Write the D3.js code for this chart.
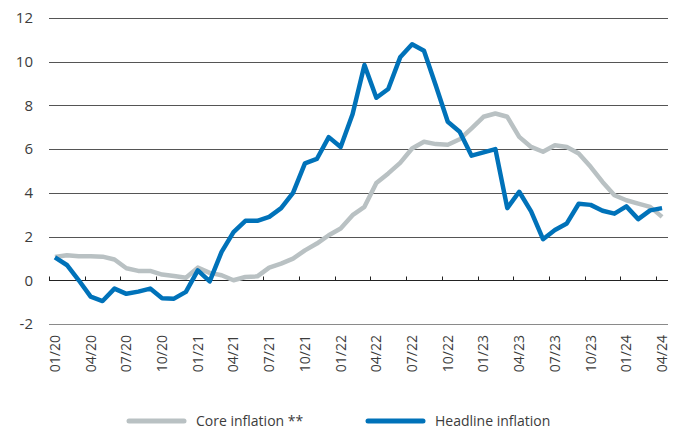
<!DOCTYPE html>
<html>
<head>
<meta charset="utf-8">
<script src="https://cdn.jsdelivr.net/npm/d3@7"></script>
<style>
  body { margin: 0; background: #fff; }
  text { font-family: "Open Sans", "Noto Sans", sans-serif; fill: #3c3c3c; }
</style>
</head>
<body>
<svg id="chart" width="680" height="430"></svg>
<script>

// monthly labels 01/20 .. 04/24
var months = []
for (var yr = 20; yr <= 24; yr++) {
  for (var mo = 1; mo <= 12; mo++) {
    if (yr == 24 && mo > 4) break
    months.push((mo < 10 ? "0" + mo : "" + mo) + "/" + yr)
  }
}

var yTicks = [-2, 0, 2, 4, 6, 8, 10, 12]

var coreInflation = [1.07,1.15,1.1,1.1,1.08,0.95,0.55,0.43,0.43,0.26,0.2,0.12,0.58,0.34,0.23,0.0,
  0.15,0.18,0.58,0.76,0.99,1.37,1.68,2.06,2.37,2.98,3.36,4.45,4.89,5.37,6.03,6.34,6.23,6.2,6.45,6.95,
  7.48,7.63,7.48,6.56,6.1,5.88,6.18,6.1,5.8,5.19,4.5,3.89,3.66,3.51,3.36,2.9]

var headlineInflation = [1.05,0.7,0.0,-0.75,-0.95,-0.38,-0.62,-0.52,-0.38,-0.82,-0.84,-0.53,0.45,-0.05,1.3,2.2,
  2.72,2.72,2.9,3.3,4.0,5.35,5.55,6.55,6.1,7.6,9.85,8.35,8.75,10.2,10.8,10.5,8.9,7.25,6.8,5.7,5.85,6.0,
  3.3,4.05,3.15,1.88,2.3,2.6,3.5,3.45,3.18,3.05,3.38,2.8,3.2,3.3]

var series = [
  {name: "Core inflation **", values: coreInflation, color: "#b9c1c3"},
  {name: "Headline inflation", values: headlineInflation, color: "#0072b9"}
]

var svg = d3.select("#chart")

var x = d3.scaleBand()
  .domain(months)
  .range([49, 668])
  .paddingInner(0)

var y = d3.scaleLinear()
  .domain([-2, 12])
  .range([324, 18])

// gridlines
svg.append("g")
  .selectAll("line")
  .data(yTicks)
  .enter()
  .append("line")
  .attr("x1", 49)
  .attr("x2", 668)
  .attr("y1", function(d){ return Math.round(y(d)) + 0.5 })
  .attr("y2", function(d){ return Math.round(y(d)) + 0.5 })
  .attr("stroke", function(d){
    if (d == 0) return "#222"
    if (d == -2) return "#8a8a8a"
    return "#555"
  })
  .attr("stroke-width", 1)

// y labels
svg.append("g")
  .selectAll("text")
  .data(yTicks)
  .enter()
  .append("text")
  .attr("x", 33)
  .attr("y", function(d){ return y(d) })
  .attr("dy", "0.35em")
  .attr("text-anchor", "end")
  .attr("font-size", 15)
  .text(function(d){ return d })

// ticks on zero line, every third month
var tickMonths = months.filter(function(d, i){ return i % 3 == 0 })
var y0 = Math.round(y(0)) + 0.5

svg.append("g")
  .selectAll("line")
  .data(tickMonths)
  .enter()
  .append("line")
  .attr("x1", function(d){ return Math.round(x(d)) + 0.5 })
  .attr("x2", function(d){ return Math.round(x(d)) + 0.5 })
  .attr("y1", y0)
  .attr("y2", y0 - 4)
  .attr("stroke", "#222")
  .attr("stroke-width", 1)

// rotated month labels
svg.append("g")
  .selectAll("text")
  .data(tickMonths)
  .enter()
  .append("text")
  .attr("transform", function(d){
    return "translate(" + (x(d) + x.bandwidth() / 2) + ",335) rotate(-90)"
  })
  .attr("dy", "0.35em")
  .attr("text-anchor", "end")
  .attr("font-size", 14)
  .text(function(d){ return d })

// lines
var line = d3.line()
  .x(function(d, i){ return x(months[i]) + x.bandwidth() / 2 })
  .y(function(d){ return y(d) })

svg.append("g")
  .selectAll("path")
  .data(series)
  .enter()
  .append("path")
  .attr("d", function(d){ return line(d.values) })
  .attr("fill", "none")
  .attr("stroke", function(d){ return d.color })
  .attr("stroke-width", 4.5)
  .attr("stroke-linejoin", "round")

// legend
var legendX = [129, 368]
var legend = svg.append("g")
  .selectAll("g")
  .data(series)
  .enter()
  .append("g")
  .attr("transform", function(d, i){ return "translate(" + legendX[i] + ",421)" })

legend.append("line")
  .attr("x1", 0)
  .attr("x2", 55)
  .attr("stroke", function(d){ return d.color })
  .attr("stroke-width", 5)
  .attr("stroke-linecap", "round")

legend.append("text")
  .attr("x", 67)
  .attr("dy", "0.35em")
  .attr("font-size", 14)
  .text(function(d){ return d.name })

</script>
</body>
</html>
